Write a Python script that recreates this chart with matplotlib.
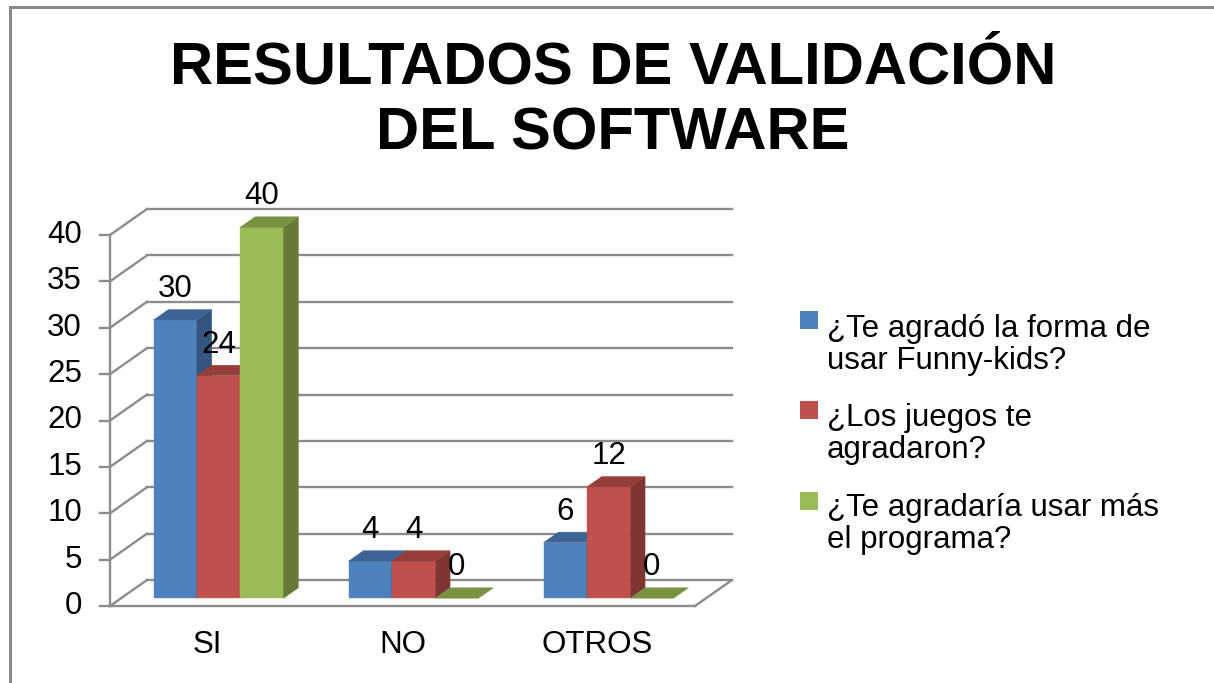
import matplotlib
matplotlib.use("Agg")
import matplotlib.pyplot as plt
from matplotlib.patches import Polygon, Rectangle

plt.rcParams['font.family'] = ['Liberation Sans', 'DejaVu Sans']

# data
categorias = ["SI", "NO", "OTROS"]
series = ["¿Te agradó la forma de\nusar Funny-kids?",
          "¿Los juegos te\nagradaron?",
          "¿Te agradaría usar más\nel programa?"]
forma = [30, 4, 6]
juegos = [24, 4, 12]
programa = [40, 0, 0]
valores = [forma, juegos, programa]
yticks = [0, 5, 10, 15, 20, 25, 30, 35, 40]
titulo = "RESULTADOS DE VALIDACIÓN\nDEL SOFTWARE"

# colours: front, top, side
colores = [("#4F81BD", "#3C6494", "#34557F"),
           ("#C0504D", "#963E3C", "#803534"),
           ("#9BBB59", "#78923F", "#677A37")]
grid_c = "#8C8C8C"
fs = 22.5

W, H = 1214, 683
X0, Y0 = 110, 606      # pixel of front-left origin
SX, SY = 195, 9.275    # pixels per category / per unit

fig = plt.figure(figsize=(W / 100, H / 100), dpi=100)
ax = fig.add_axes([0, 0, 1, 1])
ax.set_xlim(-X0 / SX, (W - X0) / SX)
ax.set_ylim((Y0 - H) / SY, Y0 / SY)
ax.axis("off")

def fx(x):
    return x / W

def fy(y):
    return 1 - y / H

# oblique depth
DX, DY = 37 / SX, 26 / SY
ncat = len(categorias)

# back wall gridlines and side wall diagonals
for v in yticks:
    ax.plot([DX, ncat + DX], [v + DY, v + DY], color=grid_c, lw=1.7, zorder=1)
    ax.plot([0, DX], [v, v + DY], color=grid_c, lw=1.7, zorder=1)
    ax.plot([-10 / SX, 0], [v, v], color=grid_c, lw=1.7, zorder=1)
    ax.text(-28 / SX, v, str(v), ha="right", va="center", fontsize=fs)

# vertical axis and floor
ax.plot([0, 0], [0, yticks[-1]], color=grid_c, lw=1.7, zorder=1)
ax.plot([0, ncat], [0, 0], color=grid_c, lw=1.7, zorder=1)
ax.plot([ncat, ncat + DX], [0, DY], color=grid_c, lw=1.7, zorder=1)

# bars
gap = 1 / 3
w = (1 - gap) / len(series)
f0, f1 = 0.3, 0.7
z = 2
for i in range(ncat):
    for j in range(len(series)):
        v = valores[j][i]
        front, top, side = colores[j]
        x1 = i + gap / 2 + j * w + f0 * DX
        x2 = x1 + w
        y1 = f0 * DY
        y2 = y1 + v
        ddx, ddy = (f1 - f0) * DX, (f1 - f0) * DY
        if v > 0:
            ax.add_patch(Polygon([(x1, y1), (x2, y1), (x2, y2), (x1, y2)],
                                 facecolor=front, edgecolor=front, lw=0.3, zorder=z))
            ax.add_patch(Polygon([(x2, y1), (x2 + ddx, y1 + ddy), (x2 + ddx, y2 + ddy), (x2, y2)],
                                 facecolor=side, edgecolor=side, lw=0.3, zorder=z))
        ax.add_patch(Polygon([(x1, y2), (x2, y2), (x2 + ddx, y2 + ddy), (x1 + ddx, y2 + ddy)],
                             facecolor=top, edgecolor=top, lw=0.3, zorder=z))
        z += 1
        ax.text((x1 + x2) / 2, y2 + 31 / SY, str(v), ha="center", va="center",
                fontsize=fs, zorder=50)

# category labels
for i, c in enumerate(categorias):
    ax.text(i + 0.5, -39 / SY, c, ha="center", va="center", fontsize=fs)

# title
fig.text(fx(613), fy(101), titulo, ha="center", va="center", fontsize=43,
         fontweight="bold", linespacing=1.27)

# legend
sq_y = [320, 410, 501]
txt_y = [345, 434, 524]
for j, s in enumerate(series):
    fig.add_artist(Rectangle((fx(800), fy(sq_y[j] + 9)), 18 / W, 18 / H,
                             transform=fig.transFigure, facecolor=colores[j][0],
                             edgecolor="none"))
    fig.text(fx(827), fy(txt_y[j]), s, ha="left", va="center", fontsize=fs,
             linespacing=1.12)

# outer frame
fig.add_artist(Rectangle((fx(10), fy(H + 20)), 1.2, (H + 13) / H,
                         transform=fig.transFigure, facecolor="none",
                         edgecolor="#888888", lw=2.2, clip_on=False))

fig.savefig("out.png", dpi=100)
